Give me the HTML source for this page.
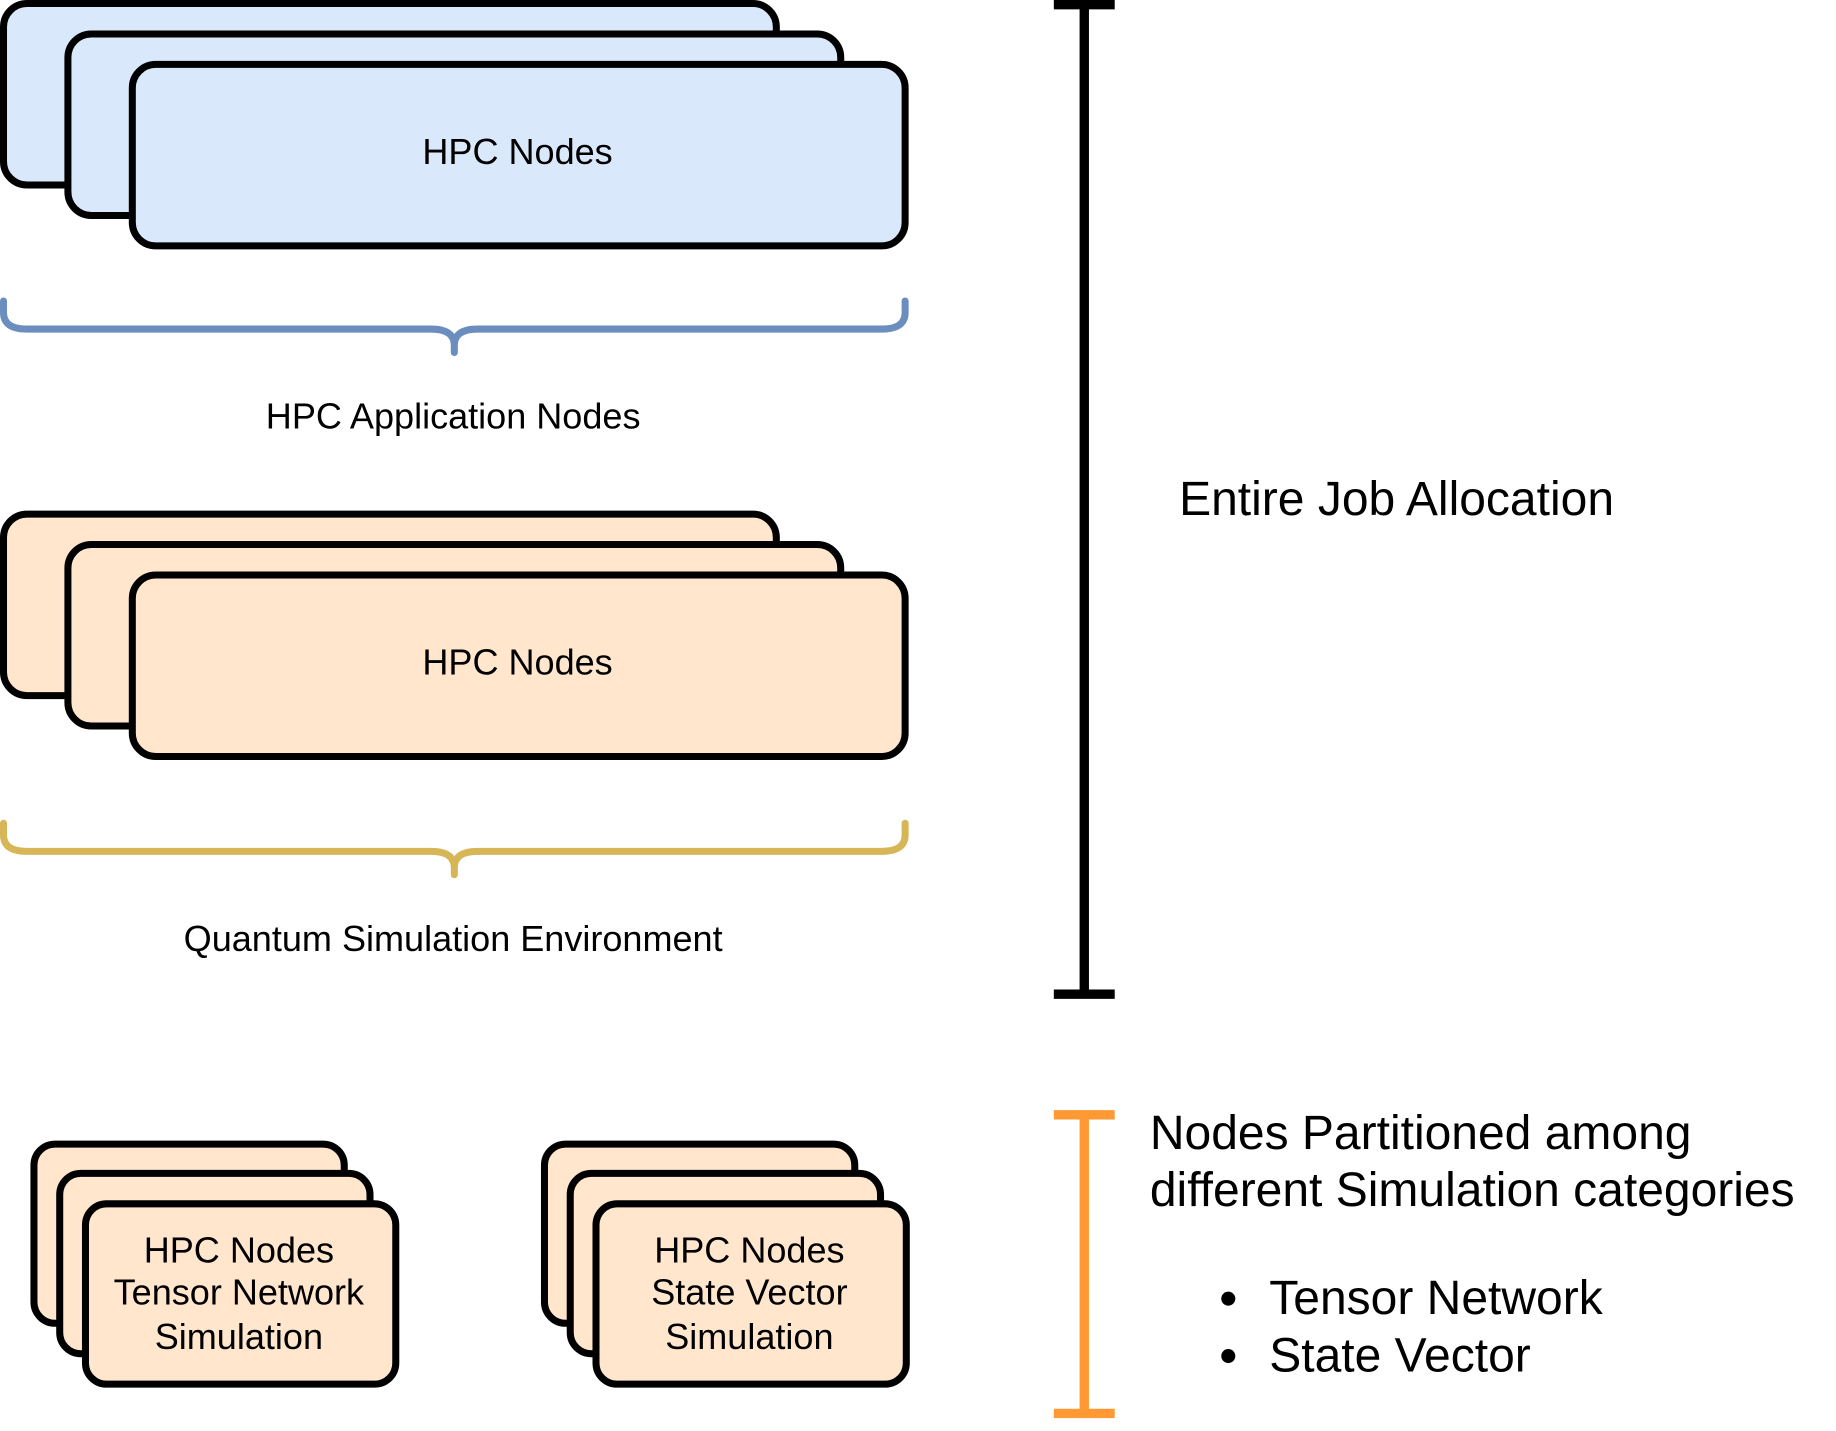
<!DOCTYPE html>
<html><head><meta charset="utf-8"><style>html,body{margin:0;padding:0;background:#fff}svg{display:block}</style></head>
<body>
<svg width="1836" height="1431" viewBox="0 0 1568 1222" preserveAspectRatio="none" xmlns="http://www.w3.org/2000/svg" font-family="Liberation Sans, Arial, sans-serif">
<g stroke="#000" stroke-width="6" fill="#dae8fc">
<rect x="3" y="3" width="660" height="155" rx="20"/>
<rect x="58" y="29" width="660" height="155" rx="20"/>
<rect x="113" y="55" width="660" height="155" rx="20"/>
</g>
<text x="442" y="140" font-size="30.8" text-anchor="middle">HPC Nodes</text>
<path d="M3 257 v10 q0 14 20 14 h345 q20 0 20 14 v6 M773 257 v10 q0 14 -20 14 h-345 q-20 0 -20 14" fill="none" stroke="#6c8ebf" stroke-width="6" stroke-linecap="round"/>
<text x="387" y="366" font-size="30.8" text-anchor="middle">HPC Application Nodes</text>
<g stroke="#000" stroke-width="6" fill="#ffe6cc">
<rect x="3" y="439" width="660" height="155" rx="20"/>
<rect x="58" y="465" width="660" height="155" rx="20"/>
<rect x="113" y="491" width="660" height="155" rx="20"/>
</g>
<text x="442" y="576" font-size="30.8" text-anchor="middle">HPC Nodes</text>
<path d="M3 703 v10 q0 14 20 14 h345 q20 0 20 14 v6 M773 703 v10 q0 14 -20 14 h-345 q-20 0 -20 14" fill="none" stroke="#d6b656" stroke-width="6" stroke-linecap="round"/>
<text x="387" y="812" font-size="30.8" text-anchor="middle">Quantum Simulation Environment</text>
<g stroke="#000" stroke-width="8"><line x1="926" y1="3" x2="926" y2="849"/><line x1="900" y1="4" x2="952" y2="4"/><line x1="900" y1="849" x2="952" y2="849"/></g>
<text x="1007" y="440" font-size="41">Entire Job Allocation</text>
<g stroke="#ff9933" stroke-width="8"><line x1="926" y1="951" x2="926" y2="1208"/><line x1="900" y1="952" x2="952" y2="952"/><line x1="900" y1="1207" x2="952" y2="1207"/></g>
<g font-size="41"><text x="982" y="981">Nodes Partitioned among</text><text x="982" y="1030">different Simulation categories</text>
<text x="1084" y="1122">Tensor Network</text><text x="1084" y="1171">State Vector</text></g>
<circle cx="1049" cy="1109" r="6"/><circle cx="1049" cy="1158" r="6"/>
<g stroke="#000" stroke-width="6" fill="#ffe6cc">
<rect x="29" y="977" width="265" height="153" rx="18"/>
<rect x="51" y="1002" width="265" height="154" rx="18"/>
<rect x="73" y="1028" width="265" height="154" rx="18"/>
<rect x="465" y="977" width="265" height="153" rx="18"/>
<rect x="487" y="1002" width="265" height="154" rx="18"/>
<rect x="509" y="1028" width="265" height="154" rx="18"/>
</g>
<g font-size="30.8" text-anchor="middle">
<text x="204" y="1078">HPC Nodes</text><text x="204" y="1114">Tensor Network</text><text x="204" y="1152">Simulation</text>
<text x="640" y="1078">HPC Nodes</text><text x="640" y="1114">State Vector</text><text x="640" y="1152">Simulation</text>
</g>
</svg>
</body></html>
